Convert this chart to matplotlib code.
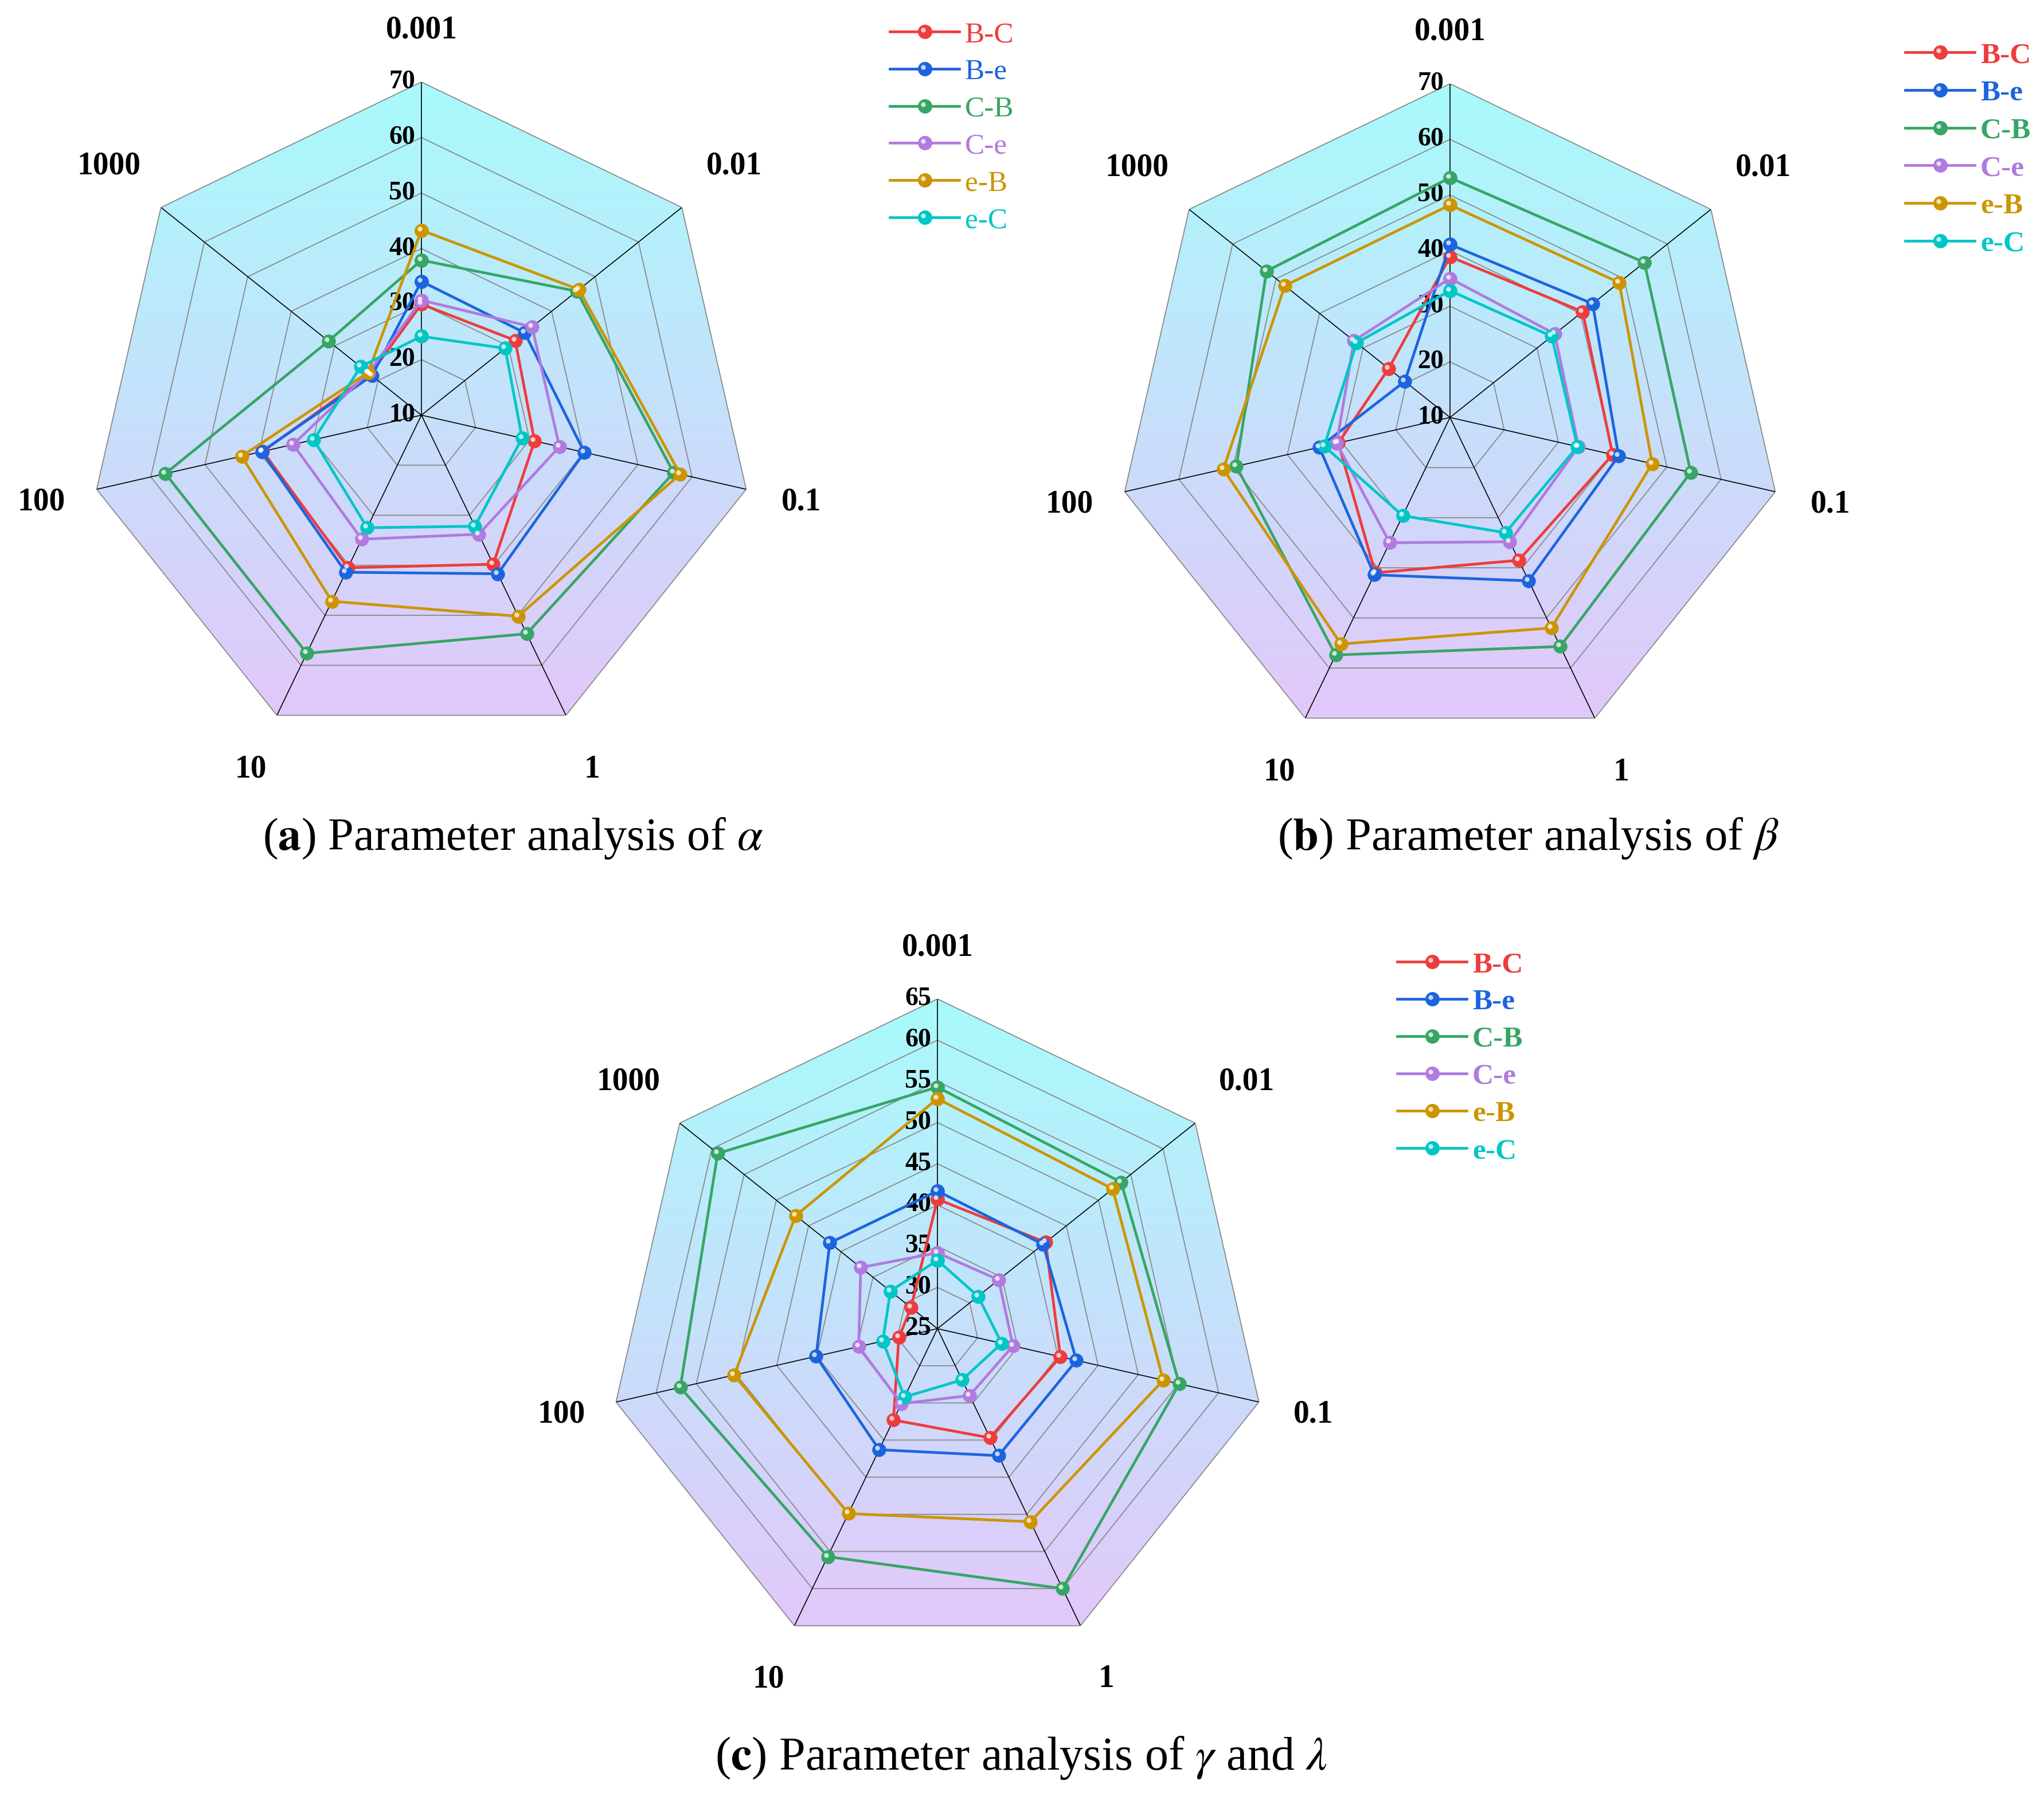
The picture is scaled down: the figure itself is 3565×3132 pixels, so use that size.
import numpy as np
import matplotlib
matplotlib.use('Agg')
import matplotlib.pyplot as plt
from matplotlib.patches import Polygon
from matplotlib.lines import Line2D
from matplotlib.transforms import ScaledTranslation

plt.rcParams['font.family'] = ['Liberation Serif', 'DejaVu Serif']
plt.rcParams['mathtext.fontset'] = 'stix'

# ---------------- data ----------------
categories = ['0.001', '0.01', '0.1', '1', '10', '100', '1000']
series_names = ['B-C', 'B-e', 'C-B', 'C-e', 'e-B', 'e-C']
series_colors = ['#ee3c3c', '#1c64de', '#37a565', '#b07ade', '#cc9500', '#00c6c6']

# (a) parameter alpha
alpha_BC = [30.0, 31.6, 30.9, 39.8, 40.5, 39.3, 21.8]
alpha_Be = [34.1, 33.8, 40.1, 41.7, 41.4, 39.5, 21.4]
alpha_CB = [37.9, 45.8, 56.6, 53.7, 57.6, 57.3, 31.4]
alpha_Ce = [30.7, 35.5, 35.5, 33.8, 34.8, 33.7, 22.2]
alpha_eB = [43.3, 46.3, 57.8, 50.2, 47.2, 43.2, 22.3]
alpha_eC = [24.2, 29.3, 28.6, 32.2, 32.5, 29.9, 24.0]

# (b) parameter beta
beta_BC = [38.9, 40.5, 40.0, 38.5, 41.0, 30.6, 24.1]
beta_Be = [41.1, 42.8, 41.1, 42.6, 41.4, 34.1, 20.4]
beta_CB = [53.1, 54.7, 54.4, 55.7, 57.4, 49.4, 52.2]
beta_Ce = [35.0, 34.1, 33.7, 34.8, 35.0, 30.9, 32.1]
beta_eB = [48.2, 48.9, 47.3, 52.0, 55.2, 51.8, 48.0]
beta_eC = [32.8, 33.4, 33.5, 33.0, 29.6, 33.2, 31.5]

# (c) parameters gamma and lambda
gl_BC = [40.7, 41.8, 40.3, 39.7, 37.3, 29.8, 29.1]
gl_Be = [41.7, 41.4, 42.3, 42.1, 41.3, 40.1, 41.7]
gl_CB = [54.3, 53.5, 55.1, 60.0, 55.7, 57.0, 59.1]
gl_Ce = [34.2, 34.5, 34.4, 34.0, 35.1, 34.8, 36.9]
gl_eB = [52.9, 52.2, 53.1, 51.0, 49.9, 50.3, 47.0]
gl_eC = [33.3, 31.3, 33.0, 31.9, 34.2, 31.8, 32.3]

ticks_ab = [10, 20, 30, 40, 50, 60, 70]
ticks_c = [25, 30, 35, 40, 45, 50, 55, 60, 65]

# ---------------- layout ----------------
W, H = 3566, 3132
DPI = 100
fig = plt.figure(figsize=(W / DPI, H / DPI), dpi=DPI)

TOP_COL = np.array([168, 251, 252]) / 255.0
BOT_COL = np.array([226, 200, 250]) / 255.0
GRID_COL = '#8a8a8a'
LW = 3.4
MS = 17
LABEL_R = [1.155, 1.2, 1.17, 1.18, 1.18, 1.17, 1.2]


def rect(cx, cy, R):
    return [(cx - R) / W, 1 - (cy + R) / H, 2 * R / W, 2 * R / H]


def radar(cx, cy, R, ticks, series):
    n = len(categories)
    theta = np.arange(n) * 2 * np.pi / n
    rmin, rmax = ticks[0], ticks[-1]

    # background gradient (cartesian underlay)
    axb = fig.add_axes(rect(cx, cy, R))
    axb.set_xlim(-1, 1)
    axb.set_ylim(-1, 1)
    axb.axis('off')
    verts = np.column_stack([np.sin(theta), np.cos(theta)])
    ybot = verts[:, 1].min()
    t = np.linspace(0, 1, 256)[:, None]
    grad = (TOP_COL[None, :] * (1 - t) + BOT_COL[None, :] * t)[:, None, :]
    im = axb.imshow(grad, extent=[-1, 1, ybot, 1], aspect='auto',
                    interpolation='bilinear', zorder=0)
    poly = Polygon(verts, closed=True, transform=axb.transData,
                   facecolor='none', edgecolor='none')
    axb.add_patch(poly)
    im.set_clip_path(poly)

    ax = fig.add_axes(rect(cx, cy, R), projection='polar')
    ax.set_theta_zero_location('N')
    ax.set_theta_direction(-1)
    ax.set_ylim(rmin, rmax)
    ax.grid(False)
    ax.set_xticks([])
    ax.set_yticks([])
    ax.spines['polar'].set_visible(False)
    ax.patch.set_alpha(0)

    th_closed = np.append(theta, theta[0])
    for v in ticks[1:]:
        ax.plot(th_closed, [v] * (n + 1), color=GRID_COL, lw=1.3, zorder=1)
    for th in theta:
        ax.plot([th, th], [rmin, rmax], color='black', lw=1.2, zorder=1.2)

    for v in ticks:
        ax.annotate(str(v), xy=(0, v), xytext=(-8, 0), textcoords='offset points',
                    ha='right', va='center', fontsize=33, fontweight='bold',
                    zorder=1.5, annotation_clip=False)

    span = rmax - rmin
    for k, lab in enumerate(categories):
        ax.text(theta[k], rmin + span * LABEL_R[k], lab, ha='center', va='center',
                fontsize=40, fontweight='bold')

    hl = ax.transData + ScaledTranslation(-3 / DPI, 3 / DPI, fig.dpi_scale_trans)
    for vals, col in zip(series, series_colors):
        v = np.append(vals, vals[0])
        ax.plot(th_closed, v, color=col, lw=LW, marker='o', ms=MS,
                mfc=col, mec=col, mew=0.5, zorder=3, clip_on=False)
        ax.plot(theta, vals, ls='none', marker='o', ms=6, mfc='white',
                mec='none', alpha=0.75, transform=hl, zorder=3.1, clip_on=False)
    return ax


def legend(x0, y0, dy, bold):
    tr = fig.transFigure
    for i, (name, col) in enumerate(zip(series_names, series_colors)):
        y = y0 + i * dy
        fig.add_artist(Line2D([x0 / W, (x0 + 121) / W], [1 - y / H, 1 - y / H],
                              color=col, lw=LW, transform=tr))
        fig.add_artist(Line2D([(x0 + 61) / W], [1 - y / H], marker='o', ms=MS,
                              color=col, mec=col, transform=tr))
        fig.add_artist(Line2D([(x0 + 58) / W], [1 - (y - 3) / H], marker='o', ms=6,
                              color='white', alpha=0.75, mec='none', transform=tr))
        fig.text((x0 + 131) / W, 1 - (y + 18) / H, name, color=col, fontsize=37,
                 fontweight='bold' if bold else 'normal', ha='left', va='baseline')


radar(735, 724, 581, ticks_ab,
      [alpha_BC, alpha_Be, alpha_CB, alpha_Ce, alpha_eB, alpha_eC])
radar(2529, 728, 582, ticks_ab,
      [beta_BC, beta_Be, beta_CB, beta_Ce, beta_eB, beta_eC])
radar(1635, 2317, 575, ticks_c,
      [gl_BC, gl_Be, gl_CB, gl_Ce, gl_eB, gl_eC])

legend(1552, 55, 64.8, False)
legend(3323, 91, 65.8, True)
legend(2437, 1677, 65.0, True)

fig.text(895 / W, 1 - 1462 / H, r'($\mathbf{a}$) Parameter analysis of $\alpha$',
         ha='center', va='center', fontsize=58)
fig.text(2665 / W, 1 - 1462 / H, r'($\mathbf{b}$) Parameter analysis of $\beta$',
         ha='center', va='center', fontsize=58)
fig.text(1781 / W, 1 - 3065 / H, r'($\mathbf{c}$) Parameter analysis of $\gamma$ and $\lambda$',
         ha='center', va='center', fontsize=59)

fig.savefig('out.png', dpi=DPI)
